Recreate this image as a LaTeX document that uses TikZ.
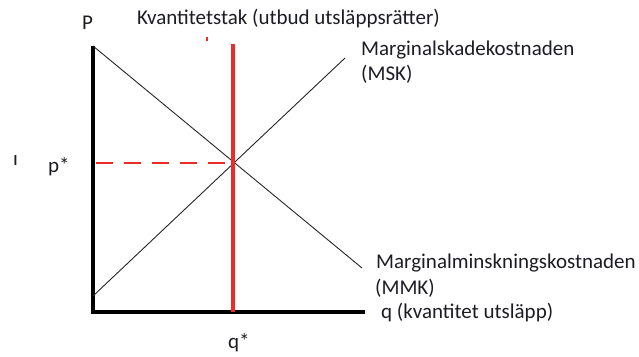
\documentclass[tikz,border=0pt]{standalone}
\usepackage{fontspec}
\setmainfont{Carlito}
\usetikzlibrary{positioning,calc}
\definecolor{capred}{HTML}{EE2B24}
\definecolor{inkdark}{HTML}{1C1C24}

\begin{document}
\begin{tikzpicture}[
    x=1pt, y=-1pt,
    axis/.style={line width=3.2pt, black},
    curve/.style={line width=0.9pt, black!85},
    capline/.style={line width=3.4pt, capred},
    guide/.style={line width=1.3pt, capred, dash pattern=on 17pt off 11pt},
    lbl/.style={font=\fontsize{21}{26}\selectfont, text=inkdark, inner sep=0pt, anchor=base west}
]
    \useasboundingbox (0,0) rectangle (639,356);

    % axes
    \coordinate (origin) at (91,312);
    \coordinate (ytop) at (93,46);
    \coordinate (xend) at (365,312);
    \draw[axis] (origin -| ytop) -- (ytop);
    \draw[axis] (origin) -- (xend);

    % curves
    \coordinate (msklow) at (93,296);
    \coordinate (mskhigh) at (345,58);
    \coordinate (mmkhigh) at (93,46);
    \coordinate (mmklow) at (362,268);
    \draw[curve] (msklow) -- (mskhigh);
    \draw[curve] (mmkhigh) -- (mmklow);

    % quantity cap and equilibrium price
    \coordinate (captop) at (233,44);
    \coordinate (capbot) at (233,312);
    \coordinate (eq) at (233,163);
    \coordinate (pstart) at (96,163);
    \draw[capline] (captop) -- (capbot);
    \draw[guide] (pstart) -- (eq);
    \fill[capred] (206,37) rectangle (208,41);

    % labels
    \node[lbl] (plabel) at (82,29) {P};
    \node[lbl] (captitle) at (137,24) {Kvantitetstak (utbud utsläppsrätter)};
    \node[lbl] (msk) at (361,55) {Marginalskadekostnaden};
    \node[lbl] (mskshort) at (361,80) {(MSK)};
    \node[lbl] (mmk) at (376,268) {Marginalminskningskostnaden};
    \node[lbl] (mmkshort) at (375,294) {(MMK)};
    \node[lbl] (qlabel) at (381,318) {q (kvantitet utsläpp)};
    \node[lbl] (qstar) at (228,348) {q*};
    \node[lbl] (pstar) at (48,172) {p*};
    \node[lbl] (stray) at (13,165) {ı};
\end{tikzpicture}
\end{document}
